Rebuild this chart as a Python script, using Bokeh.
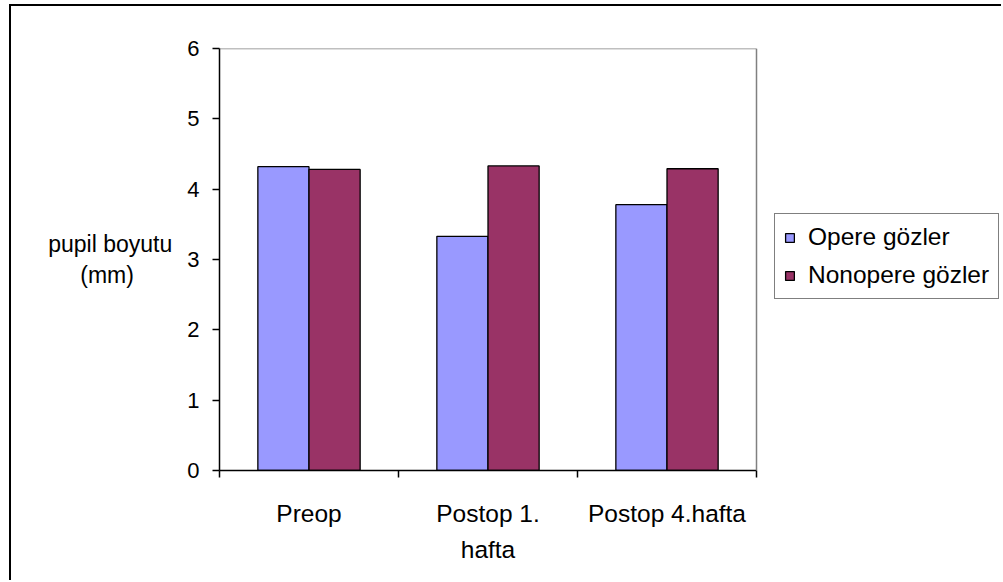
from bokeh.plotting import figure
from bokeh.models import (Range1d, FixedTicker, Legend, LegendItem, ColumnDataSource, Span)
from bokeh.transform import dodge
from bokeh.embed import file_html
from bokeh.resources import INLINE

categories = ["Preop", "Postop 1.\nhafta", "Postop 4.hafta"]
opere = [4.32, 3.33, 3.78]
nonopere = [4.28, 4.33, 4.29]
series_names = ["Opere gözler", "Nonopere gözler"]
y_ticks = [0, 1, 2, 3, 4, 5, 6]
y_title = "pupil boyutu\n(mm)" + "\u00a0" * 6  # trailing spaces centre the 2nd line

FONT = "Liberation Sans"

# layout (canvas pixels)
W, H = 992, 576
PLOT_L, PLOT_R, PLOT_T, PLOT_B = 208, 745, 42, 464
FRAME_R = 990
n = len(categories)
x_end = n * (FRAME_R - PLOT_L) / (PLOT_R - PLOT_L)   # frame extends under the legend

pos = [i + 0.5 for i in range(n)]
src = ColumnDataSource(dict(x=pos, opere=opere, nonopere=nonopere))

p = figure(width=W, height=H, output_backend="svg", toolbar_location=None,
           x_range=Range1d(0, x_end), y_range=Range1d(y_ticks[0], y_ticks[-1]),
           min_border_left=PLOT_L, min_border_right=W - FRAME_R, min_border_top=PLOT_T,
           min_border_bottom=H - PLOT_B, background_fill_color="white",
           border_fill_color="white")
p.styles = {"margin-left": "9px", "margin-top": "4px",
            "border-left": "2px solid black", "border-top": "2px solid black"}
p.outline_line_color = None
p.grid.visible = False

# grey top and right edges of the plot area
p.segment(x0=[0], x1=[n], y0=[y_ticks[-1]], y1=[y_ticks[-1]], line_color="#808080",
          line_width=1.5)
p.add_layout(Span(location=n, dimension="height", line_color="#808080", line_width=1.5))

bw = 2 / 7
r1 = p.vbar(x=dodge("x", -bw / 2, range=p.x_range), top="opere", width=bw, source=src,
            fill_color="#9999FF", line_color="black", line_width=1.3)
r2 = p.vbar(x=dodge("x", bw / 2, range=p.x_range), top="nonopere", width=bw, source=src,
            fill_color="#993366", line_color="black", line_width=1.3)

# x axis: labels at category centres, ticks at category boundaries
xa = p.xaxis[0]
xa.bounds = (0, n)
xa.ticker = FixedTicker(ticks=pos, minor_ticks=list(range(n + 1)))
xa.major_label_overrides = {pv: c for pv, c in zip(pos, categories)}
xa.major_tick_line_color = None
xa.major_tick_out = 0
xa.major_tick_in = 0
xa.minor_tick_out = 7
xa.minor_tick_in = 0
xa.minor_tick_line_color = "black"
xa.minor_tick_line_width = 1.5
xa.axis_line_color = "black"
xa.axis_line_width = 1.5
xa.major_label_standoff = 22
xa.major_label_text_font = FONT
xa.major_label_text_font_size = "24.5px"
xa.major_label_text_color = "black"
xa.major_label_text_line_height = 1.35

# y axis
ya = p.yaxis[0]
ya.ticker = FixedTicker(ticks=y_ticks)
ya.minor_tick_line_color = None
ya.major_tick_out = 7
ya.major_tick_in = 0
ya.major_tick_line_color = "black"
ya.major_tick_line_width = 1.5
ya.axis_line_color = "black"
ya.axis_line_width = 1.5
ya.major_label_standoff = 13
ya.major_label_text_font = FONT
ya.major_label_text_font_size = "22px"
ya.major_label_text_color = "black"
ya.axis_label = y_title
ya.axis_label_orientation = "horizontal"
ya.axis_label_standoff = 12
ya.axis_label_text_font = FONT
ya.axis_label_text_font_style = "normal"
ya.axis_label_text_font_size = "23px"
ya.axis_label_text_color = "black"
ya.axis_label_text_line_height = 1.2

legend = Legend(items=[LegendItem(label=series_names[0], renderers=[r1]),
                       LegendItem(label=series_names[1], renderers=[r2])],
                location=(763 - PLOT_L, PLOT_B - 293), orientation="vertical")
legend.border_line_color = "black"
legend.border_line_width = 1.3
legend.background_fill_color = "white"
legend.label_text_font = FONT
legend.label_text_font_size = "24.5px"
legend.label_text_color = "black"
legend.glyph_width = 11
legend.glyph_height = 11
legend.padding = 9
legend.spacing = 10
legend.margin = 0
legend.label_standoff = 13
p.add_layout(legend, "center")

open("out.html", "w").write(file_html(p, INLINE))
